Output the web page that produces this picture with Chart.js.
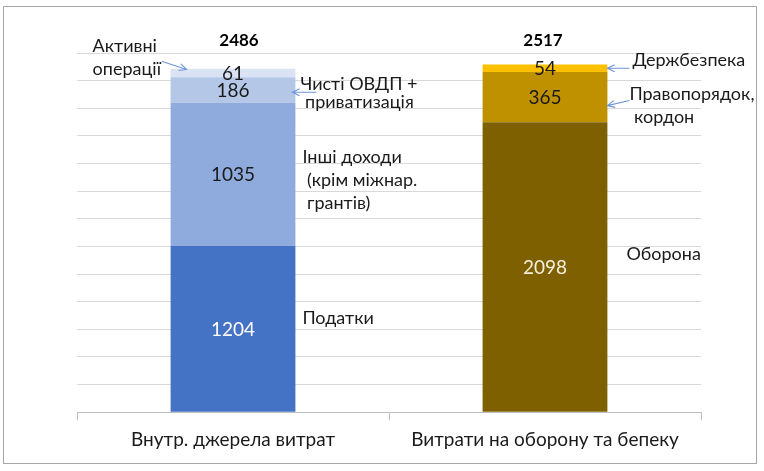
<!DOCTYPE html>
<html>
<head>
<meta charset="utf-8">
<script src="https://cdn.jsdelivr.net/npm/chart.js@4/dist/chart.umd.min.js"></script>
<style>
html,body{margin:0;padding:0;background:#fff;}
#wrap{position:relative;width:764px;height:471px;}
</style>
</head>
<body>
<div id="wrap"><canvas id="c" width="764" height="471"></canvas></div>
<script>
// ---- Data ----
const categories = ['Внутр. джерела витрат', 'Витрати на оборону та бепеку'];
const seriesNames = ['Податки', 'Інші доходи', 'Чисті ОВДП + приватизація', 'Активні операції', 'Оборона', 'Правопорядок, кордон', 'Держбезпека'];
const taxes      = [1204, null];
const otherInc   = [1035, null];
const bonds      = [186, null];
const activeOps  = [61, null];
const defence    = [null, 2098];
const lawOrder   = [null, 365];
const secService = [null, 54];
const totals     = [2486, 2517];
const yMax = 2600, yStep = 200;

const seriesValues = [taxes, otherInc, bonds, activeOps, defence, lawOrder, secService];
const colors = ['#4472C4', '#8FAADC', '#B4C7E7', '#DAE3F3', '#7F6000', '#BF9000', '#FFC000'];
const labelColors = ['#ffffff', '#1a1a1a', '#1a1a1a', '#1a1a1a', '#f4efdc', '#1a1a1a', '#1a1a1a'];

const annotations = [
  {cat:0, side:'left',  lines:['Активні','операції'], dx:-78, y:2649, lh:23,
   arrow:{x1:-9, y1:2540, x2:16, y2:2481}},
  {cat:0, side:'right', lines:['Чисті ОВДП +',' приватизація'], dx:5, y:2377, lh:18.5,
   arrow:{x1:21, y1:2316, x2:-3, y2:2316}},
  {cat:0, side:'right', lines:['Інші доходи',' (крім міжнар.',' грантів)'], dx:7, y:1843, lh:23},
  {cat:0, side:'right', lines:['Податки'], dx:7, y:684, lh:23},
  {cat:1, side:'right', lines:['Держбезпека'], dx:25, y:2547, lh:23,
   arrow:{x1:22, y1:2490, x2:0, y2:2490}},
  {cat:1, side:'right', lines:['Правопорядок,',' кордон'], dx:22, y:2300, lh:22.5,
   arrow:{x1:22, y1:2256, x2:0, y2:2219}},
  {cat:1, side:'right', lines:['Оборона'], dx:19, y:1145, lh:23}
];

const FONT = 'Lato, "Open Sans", sans-serif';

const datasets = seriesNames.map((n, i) => ({
  label: n,
  data: seriesValues[i],
  backgroundColor: colors[i],
  borderWidth: 0,
  categoryPercentage: 0.8,
  barPercentage: 0.5
}));

const framePlugin = {
  id: 'frame',
  beforeDraw(chart) {
    const ctx = chart.ctx;
    ctx.save();
    ctx.fillStyle = '#fff';
    ctx.fillRect(0, 0, chart.width, chart.height);
    ctx.strokeStyle = '#a6a6a6';
    ctx.lineWidth = 1;
    ctx.strokeRect(3.5, 6.5, 753, 457);
    ctx.restore();
  }
};

function drawArrow(ctx, x1, y1, x2, y2) {
  ctx.beginPath();
  ctx.moveTo(x1, y1);
  ctx.lineTo(x2, y2);
  const a = Math.atan2(y2 - y1, x2 - x1);
  const L = 8, w = 0.45;
  ctx.moveTo(x2 - L * Math.cos(a - w), y2 - L * Math.sin(a - w));
  ctx.lineTo(x2, y2);
  ctx.lineTo(x2 - L * Math.cos(a + w), y2 - L * Math.sin(a + w));
  ctx.stroke();
}

const labelPlugin = {
  id: 'labels',
  afterDatasetsDraw(chart) {
    const ctx = chart.ctx;
    const y = chart.scales.y;
    ctx.save();
    ctx.textAlign = 'center';
    ctx.textBaseline = 'middle';
    ctx.font = '19px ' + FONT;
    chart.data.datasets.forEach((ds, di) => {
      const meta = chart.getDatasetMeta(di);
      meta.data.forEach((bar, i) => {
        const v = ds.data[i];
        if (v == null) return;
        const p = bar.getProps(['x', 'y', 'base'], true);
        ctx.fillStyle = labelColors[di];
        ctx.fillText(String(v), p.x, (p.y + p.base) / 2 + 1);
      });
    });
    ctx.font = 'bold 17px ' + FONT;
    ctx.fillStyle = '#000';
    const meta0 = chart.getDatasetMeta(0);
    const meta4 = chart.getDatasetMeta(4);
    const barsX = [meta0.data[0], meta4.data[1]];
    totals.forEach((t, i) => {
      const bx = barsX[i].getProps(['x'], true).x;
      ctx.fillText(String(t), bx + (i === 0 ? 6 : -2), 41);
    });
    ctx.font = '18px ' + FONT;
    ctx.textAlign = 'left';
    ctx.fillStyle = '#1a1a1a';
    ctx.strokeStyle = '#6f96d8';
    ctx.lineWidth = 1.1;
    annotations.forEach(a => {
      const bar = a.cat === 0 ? meta0.data[0] : meta4.data[1];
      const p = bar.getProps(['x', 'width'], true);
      const left = p.x - p.width / 2, right = p.x + p.width / 2;
      const ref = a.side === 'left' ? left : right;
      const y0 = y.getPixelForValue(a.y);
      a.lines.forEach((ln, k) => ctx.fillText(ln, ref + a.dx, y0 + k * a.lh));
      if (a.arrow) {
        drawArrow(ctx, ref + a.arrow.x1, y.getPixelForValue(a.arrow.y1),
                       ref + a.arrow.x2, y.getPixelForValue(a.arrow.y2));
      }
    });
    ctx.restore();
  }
};

new Chart(document.getElementById('c'), {
  type: 'bar',
  data: { labels: categories, datasets },
  options: {
    responsive: false,
    animation: false,
    devicePixelRatio: 1,
    layout: { padding: { left: 77, right: 63, top: 53, bottom: 12 } },
    plugins: { legend: { display: false }, tooltip: { enabled: false } },
    scales: {
      x: {
        stacked: true,
        grid: { offset: true, drawOnChartArea: false, drawTicks: true, tickLength: 8, color: '#bfbfbf' },
        border: { display: true, color: '#bfbfbf', width: 1 },
        ticks: { color: '#1a1a1a', font: { family: FONT, size: 19 }, padding: 8, maxRotation: 0, autoSkip: false }
      },
      y: {
        stacked: true,
        min: 0, max: yMax,
        afterFit(s) { s.width = 0; },
        ticks: { display: false, stepSize: yStep },
        grid: { color: '#d9d9d9', drawTicks: false, lineWidth: 1 },
        border: { display: false }
      }
    }
  },
  plugins: [framePlugin, labelPlugin]
});
</script>
</body>
</html>
